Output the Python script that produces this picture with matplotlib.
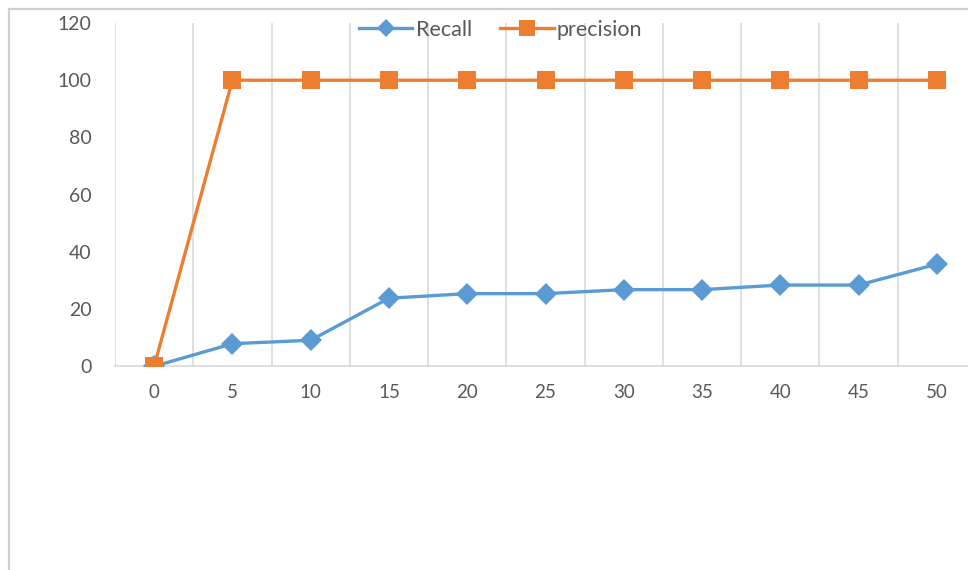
import matplotlib
matplotlib.use("Agg")
import matplotlib.pyplot as plt
import numpy as np

categories = ["0", "5", "10", "15", "20", "25", "30", "35", "40", "45", "50"]
recall = [0, 7.9, 9.1, 23.8, 25.4, 25.4, 26.8, 26.8, 28.4, 28.4, 35.7]
precision = [0, 100, 100, 100, 100, 100, 100, 100, 100, 100, 100]
y_ticks = [0, 20, 40, 60, 80, 100, 120]

W, H = 968, 570
fig = plt.figure(figsize=(W / 100, H / 100), dpi=100)
fig.patch.set_facecolor("white")
plt.rcParams["font.family"] = ["Lato", "DejaVu Sans"]

# chart frame: an empty axes whose left and top spines form the border
frame = fig.add_axes([8.5 / W, -0.05, 1.0, 1.05 - 9 / H], zorder=-1)
frame.set_xticks([])
frame.set_yticks([])
frame.set_facecolor("none")
for s in ["right", "bottom"]:
    frame.spines[s].set_visible(False)
for s in ["left", "top"]:
    frame.spines[s].set_color("#d0d0d0")
    frame.spines[s].set_linewidth(1.6)

left, right, top, bottom = 115, 976, 23, 366.3
ax = fig.add_axes([left / W, 1 - bottom / H, (right - left) / W, (bottom - top) / H])
ax.set_facecolor("none")

x = np.arange(len(categories))
ax.plot(x, recall, color="#5B9BD5", linewidth=2.4, marker="D", markersize=11,
        markeredgewidth=0, label="Recall", zorder=3)
ax.plot(x, precision, color="#ED7D31", linewidth=2.4, marker="s", markersize=13.5,
        markeredgewidth=0, label="precision", zorder=4)

ax.set_xlim(-0.5, len(categories) - 0.5)
ax.set_ylim(0, 120)
ax.set_yticks(y_ticks)
ax.set_yticklabels([str(v) for v in y_ticks], fontsize=14, color="#595959")
ax.set_xticks(x)
ax.set_xticklabels(categories, fontsize=13.5, color="#595959")
ax.set_xticks(np.arange(len(categories) + 1) - 0.5, minor=True)
ax.tick_params(axis="y", length=0, pad=17)
ax.tick_params(axis="x", which="both", length=0, pad=13)
ax.grid(axis="x", which="minor", color="#d9d9d9", linewidth=1.2)
ax.grid(axis="x", which="major", visible=False)
for s in ["left", "right", "top"]:
    ax.spines[s].set_visible(False)
ax.spines["bottom"].set_color("#d9d9d9")
ax.spines["bottom"].set_linewidth(1.2)
ax.spines["bottom"].set_zorder(2)

leg = fig.legend(loc="center", bbox_to_anchor=(0.517, 1 - 30 / H), ncol=2,
                 frameon=False, fontsize=15.5, handlelength=2.5, handletextpad=0.15,
                 columnspacing=1.3, markerscale=0.85)
for t in leg.get_texts():
    t.set_color("#595959")

fig.savefig("out.png", dpi=100, facecolor="white")
